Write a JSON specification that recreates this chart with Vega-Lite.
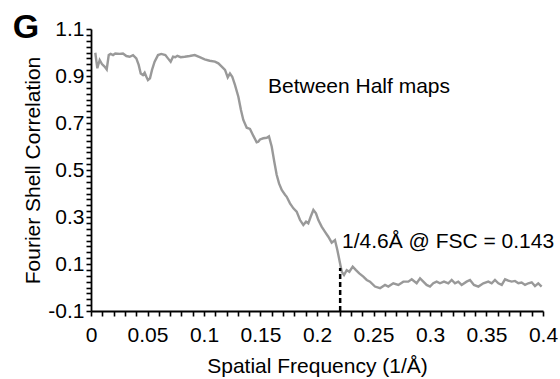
{
  "$schema": "https://vega.github.io/schema/vega-lite/v6.json",
  "width": 452,
  "height": 282,
  "autosize": "none",
  "padding": {"left": 91, "top": 29, "right": 17, "bottom": 68},
  "background": "white",
  "config": {
    "view": {"stroke": null},
    "font": "Liberation Sans",
    "axis": {
      "domainColor": "black",
      "domainWidth": 1.8,
      "tickColor": "black",
      "tickWidth": 1.6,
      "tickSize": 5,
      "labelColor": "black",
      "labelFont": "Liberation Sans",
      "labelFontSize": 21,
      "titleFont": "Liberation Sans",
      "titleFontSize": 21,
      "titleFontWeight": "normal",
      "titleColor": "black",
      "grid": false,
      "labelOverlap": false,
      "labelBound": false,
      "labelFlush": false
    }
  },
  "encoding": {
    "x": {
      "field": "freq",
      "type": "quantitative",
      "scale": {"domain": [0, 0.4], "nice": false, "zero": false},
      "axis": {
        "title": "Spatial Frequency (1/Å)",
        "values": [0,0.01,0.02,0.03,0.04,0.05,0.06,0.07,0.08,0.09,0.1,0.11,0.12,0.13,0.14,0.15,0.16,0.17,0.18,0.19,0.2,0.21,0.22,0.23,0.24,0.25,0.26,0.27,0.28,0.29,0.3,0.31,0.32,0.33,0.34,0.35,0.36,0.37,0.38,0.39,0.4],
        "labelExpr": "abs(datum.value*20 - round(datum.value*20)) < 0.001 ? format(datum.value, '~g') : ''",
        "labelPadding": 8,
        "titlePadding": 10
      }
    },
    "y": {
      "field": "fsc",
      "type": "quantitative",
      "scale": {"domain": [-0.1, 1.1], "nice": false, "zero": false},
      "axis": {
        "title": "Fourier Shell Correlation",
        "values": [-0.1,-0.075,-0.05,-0.025,0,0.025,0.05,0.075,0.1,0.125,0.15,0.175,0.2,0.225,0.25,0.275,0.3,0.325,0.35,0.375,0.4,0.425,0.45,0.475,0.5,0.525,0.55,0.575,0.6,0.625,0.65,0.675,0.7,0.725,0.75,0.775,0.8,0.825,0.85,0.875,0.9,0.925,0.95,0.975,1,1.025,1.05,1.075,1.1],
        "labelExpr": "abs((datum.value+0.1)*5 - round((datum.value+0.1)*5)) < 0.001 ? replace(format(datum.value, '~g'), '−', '-') : ''",
        "labelPadding": 2,
        "titlePadding": 4
      }
    }
  },
  "layer": [
    {
      "data": {"values": [
        {"freq":0.0038,"fsc":0.999},{"freq":0.0056,"fsc":0.933},{"freq":0.0077,"fsc":0.968},{"freq":0.0097,"fsc":0.951},
        {"freq":0.012,"fsc":0.94},{"freq":0.0139,"fsc":0.928},{"freq":0.0157,"fsc":0.989},{"freq":0.0174,"fsc":0.994},
        {"freq":0.0195,"fsc":0.989},{"freq":0.0215,"fsc":0.996},{"freq":0.0254,"fsc":0.994},{"freq":0.0283,"fsc":0.996},
        {"freq":0.0313,"fsc":0.985},{"freq":0.0342,"fsc":0.982},{"freq":0.0372,"fsc":0.989},{"freq":0.0401,"fsc":0.975},
        {"freq":0.0422,"fsc":0.947},{"freq":0.044,"fsc":0.911},{"freq":0.046,"fsc":0.904},{"freq":0.0475,"fsc":0.914},
        {"freq":0.049,"fsc":0.897},{"freq":0.0504,"fsc":0.883},{"freq":0.0522,"fsc":0.89},{"freq":0.054,"fsc":0.926},
        {"freq":0.0563,"fsc":0.961},{"freq":0.0593,"fsc":0.989},{"freq":0.0622,"fsc":0.994},{"freq":0.0658,"fsc":0.989},
        {"freq":0.0681,"fsc":0.975},{"freq":0.0705,"fsc":0.961},{"freq":0.0726,"fsc":0.982},{"freq":0.0746,"fsc":0.98},
        {"freq":0.0764,"fsc":0.986},{"freq":0.0794,"fsc":0.98},{"freq":0.0829,"fsc":0.982},{"freq":0.0873,"fsc":0.985},
        {"freq":0.0918,"fsc":0.989},{"freq":0.0962,"fsc":0.98},{"freq":0.1006,"fsc":0.971},{"freq":0.105,"fsc":0.965},
        {"freq":0.1097,"fsc":0.961},{"freq":0.1127,"fsc":0.954},{"freq":0.1157,"fsc":0.94},{"freq":0.1186,"fsc":0.926},
        {"freq":0.121,"fsc":0.894},{"freq":0.123,"fsc":0.911},{"freq":0.125,"fsc":0.897},{"freq":0.1274,"fsc":0.862},
        {"freq":0.1304,"fsc":0.812},{"freq":0.1327,"fsc":0.755},{"freq":0.1348,"fsc":0.713},{"freq":0.1378,"fsc":0.68},
        {"freq":0.1407,"fsc":0.675},{"freq":0.1437,"fsc":0.645},{"freq":0.1466,"fsc":0.618},{"freq":0.148,"fsc":0.62},
        {"freq":0.1496,"fsc":0.63},{"freq":0.1525,"fsc":0.635},{"freq":0.1555,"fsc":0.637},{"freq":0.1575,"fsc":0.643},
        {"freq":0.1599,"fsc":0.6},{"freq":0.1622,"fsc":0.535},{"freq":0.1643,"fsc":0.48},{"freq":0.1664,"fsc":0.443},
        {"freq":0.1688,"fsc":0.415},{"freq":0.1717,"fsc":0.395},{"freq":0.1732,"fsc":0.386},{"freq":0.1761,"fsc":0.358},
        {"freq":0.1791,"fsc":0.337},{"freq":0.182,"fsc":0.323},{"freq":0.185,"fsc":0.287},{"freq":0.1879,"fsc":0.266},
        {"freq":0.1903,"fsc":0.28},{"freq":0.1923,"fsc":0.273},{"freq":0.1944,"fsc":0.301},{"freq":0.1968,"fsc":0.33},
        {"freq":0.1991,"fsc":0.316},{"freq":0.2012,"fsc":0.287},{"freq":0.2041,"fsc":0.259},{"freq":0.2071,"fsc":0.237},
        {"freq":0.21,"fsc":0.216},{"freq":0.213,"fsc":0.191},{"freq":0.2159,"fsc":0.202},{"freq":0.218,"fsc":0.16},
        {"freq":0.2198,"fsc":0.117},{"freq":0.2219,"fsc":0.067},{"freq":0.2239,"fsc":0.053},{"freq":0.2263,"fsc":0.074},
        {"freq":0.2286,"fsc":0.067},{"freq":0.2316,"fsc":0.089},{"freq":0.2345,"fsc":0.074},{"freq":0.2374,"fsc":0.06},
        {"freq":0.241,"fsc":0.046},{"freq":0.244,"fsc":0.032},{"freq":0.2469,"fsc":0.025},{"freq":0.2513,"fsc":0.004},
        {"freq":0.2558,"fsc":-0.003},{"freq":0.2602,"fsc":0.011},{"freq":0.2631,"fsc":0.004},{"freq":0.2675,"fsc":0.018},
        {"freq":0.272,"fsc":0.011},{"freq":0.2764,"fsc":0.025},{"freq":0.2808,"fsc":0.025},{"freq":0.2838,"fsc":0.035},
        {"freq":0.2882,"fsc":0.018},{"freq":0.2912,"fsc":0.039},{"freq":0.2941,"fsc":0.025},{"freq":0.297,"fsc":0.011},
        {"freq":0.3,"fsc":0.004},{"freq":0.3029,"fsc":0.018},{"freq":0.3059,"fsc":0.025},{"freq":0.3088,"fsc":0.018},
        {"freq":0.3124,"fsc":0.025},{"freq":0.3162,"fsc":0.018},{"freq":0.3192,"fsc":0.032},{"freq":0.3221,"fsc":0.018},
        {"freq":0.325,"fsc":0.025},{"freq":0.328,"fsc":0.011},{"freq":0.3324,"fsc":0.025},{"freq":0.3354,"fsc":0.032},
        {"freq":0.3389,"fsc":0.011},{"freq":0.3428,"fsc":0.004},{"freq":0.3472,"fsc":0.018},{"freq":0.3516,"fsc":0.025},
        {"freq":0.3546,"fsc":0.018},{"freq":0.3575,"fsc":0.032},{"freq":0.3605,"fsc":0.018},{"freq":0.3635,"fsc":0.011},
        {"freq":0.3664,"fsc":0.035},{"freq":0.3693,"fsc":0.029},{"freq":0.3723,"fsc":0.025},{"freq":0.3752,"fsc":0.028},
        {"freq":0.3782,"fsc":0.018},{"freq":0.3811,"fsc":0.021},{"freq":0.3841,"fsc":0.011},{"freq":0.387,"fsc":0.018},
        {"freq":0.39,"fsc":0.022},{"freq":0.3929,"fsc":0.006},{"freq":0.3958,"fsc":0.018},{"freq":0.3988,"fsc":0.004}
      ]},
      "mark": {"type": "line", "color": "#999999", "strokeWidth": 2.4}
    },
    {
      "data": {"values": [{"freq": 0.2205, "fsc": -0.1, "fsc2": 0.083}]},
      "mark": {"type": "rule", "color": "black", "strokeWidth": 2.5, "strokeDash": [5, 3]},
      "encoding": {"y2": {"field": "fsc2"}}
    },
    {
      "data": {"values": [
        {"freq": 0.1566, "fsc": 0.853, "label": "Between Half maps"},
        {"freq": 0.2221, "fsc": 0.1936, "label": "1/4.6Å @ FSC = 0.143"}
      ]},
      "mark": {"type": "text", "align": "left", "baseline": "middle", "fontSize": 21, "font": "Liberation Sans", "color": "black"},
      "encoding": {"text": {"field": "label"}}
    },
    {
      "data": {"values": [{"freq": -0.0575, "fsc": 1.104, "label": "G"}]},
      "mark": {"type": "text", "align": "center", "baseline": "middle", "fontSize": 34, "fontWeight": "bold", "font": "Liberation Sans", "color": "black"},
      "encoding": {"text": {"field": "label"}}
    }
  ]
}
